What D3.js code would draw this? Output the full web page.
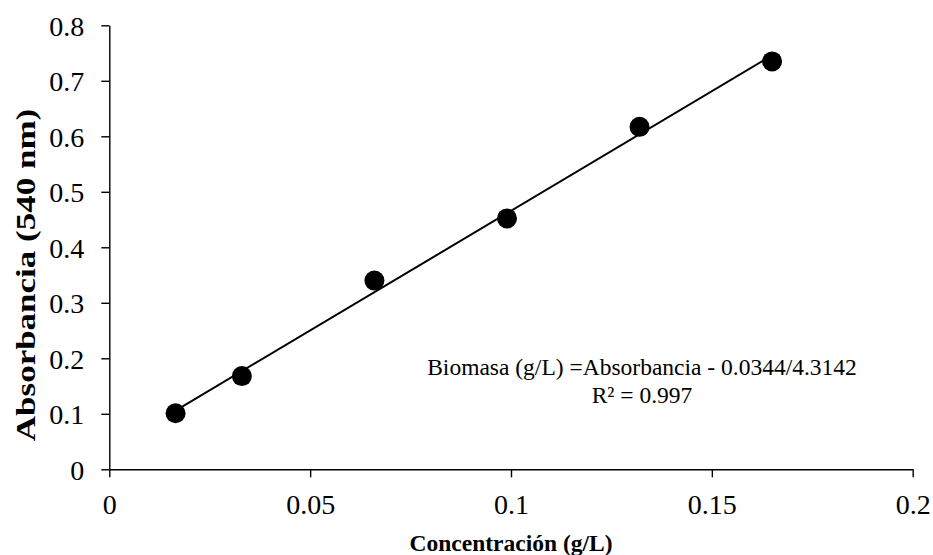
<!DOCTYPE html>
<html>
<head>
<meta charset="utf-8">
<script src="https://cdn.jsdelivr.net/npm/d3@7/dist/d3.min.js"></script>
<style>
  html, body { margin: 0; padding: 0; background: #fff; }
  svg { display: block; }
  svg text { font-family: "Liberation Serif", "Times New Roman", serif; fill: #000; }
</style>
</head>
<body>
<svg id="chart" width="933" height="555"></svg>
<script>
// Calibration data: biomass concentration vs absorbance at 540 nm
const concentration = [0.0165, 0.033, 0.066, 0.099, 0.132, 0.165];
const absorbance    = [0.101, 0.168, 0.340, 0.452, 0.617, 0.735];

const xTicks = [0, 0.05, 0.1, 0.15, 0.2];
const yTicks = [0, 0.1, 0.2, 0.3, 0.4, 0.5, 0.6, 0.7, 0.8];

const xTitle = "Concentración (g/L)";
const yTitle = "Absorbancia (540 nm)";
const equationLines = ["Biomasa (g/L) =Absorbancia - 0.0344/4.3142", "R² = 0.997"];

const serif = '"Liberation Serif", "Times New Roman", serif';
const plot = { left: 109.3, right: 912.7, top: 25.3, bottom: 469.3 };

const svg = d3.select("#chart");

const x = d3.scaleLinear().domain([0, 0.2]).range([plot.left, plot.right]);
const y = d3.scaleLinear().domain([0, 0.8]).range([plot.bottom, plot.top]);

// Least-squares fit for the trendline
const mx = d3.mean(concentration), my = d3.mean(absorbance);
let sxy = 0, sxx = 0;
concentration.forEach((c, i) => {
  sxy += (c - mx) * (absorbance[i] - my);
  sxx += (c - mx) ** 2;
});
const slope = sxy / sxx;
const intercept = my - slope * mx;
const xExt = d3.extent(concentration);

// Axes
const xAxis = svg.append("g")
  .attr("transform", `translate(0,${plot.bottom})`)
  .call(d3.axisBottom(x).tickValues(xTicks).tickSize(8).tickSizeOuter(0)
    .tickFormat(d => String(+d.toFixed(2))));
xAxis.attr("font-family", serif).attr("font-size", 28);
xAxis.selectAll("text").attr("dy", null).attr("y", 45);

const yAxis = svg.append("g")
  .attr("transform", `translate(${plot.left},0)`)
  .call(d3.axisLeft(y).tickValues(yTicks).tickSize(8).tickSizeOuter(0)
    .tickFormat(d => String(+d.toFixed(1))));
yAxis.attr("font-family", serif).attr("font-size", 28);
yAxis.selectAll("text").attr("x", -25).attr("dy", "0.35em");

svg.selectAll(".domain, .tick line").attr("stroke", "#000").attr("stroke-width", 1.4);

// Trendline
svg.append("line")
  .attr("x1", x(xExt[0])).attr("y1", y(slope * xExt[0] + intercept))
  .attr("x2", x(xExt[1])).attr("y2", y(slope * xExt[1] + intercept))
  .attr("stroke", "#000").attr("stroke-width", 2);

// Data points
svg.append("g").selectAll("circle")
  .data(concentration.map((c, i) => [c, absorbance[i]]))
  .join("circle")
  .attr("cx", d => x(d[0])).attr("cy", d => y(d[1]))
  .attr("r", 10).attr("fill", "#000");

// Axis titles
svg.append("text")
  .attr("x", (plot.left + plot.right) / 2).attr("y", 551)
  .attr("text-anchor", "middle")
  .style("font-weight", "bold").style("font-size", "23.5px")
  .text(xTitle);

// Vertical title is drawn in a stretched face, longer along its reading direction
svg.append("text")
  .attr("transform", "translate(35,275) rotate(-90) scale(1.25,1)")
  .attr("text-anchor", "middle")
  .style("font-weight", "bold").style("font-size", "28px")
  .text(yTitle);

// Trendline equation
svg.append("g").selectAll("text")
  .data(equationLines)
  .join("text")
  .attr("x", 642).attr("y", (d, i) => 375 + i * 28)
  .attr("text-anchor", "middle")
  .style("font-size", "23.5px")
  .text(d => d);
</script>
</body>
</html>
